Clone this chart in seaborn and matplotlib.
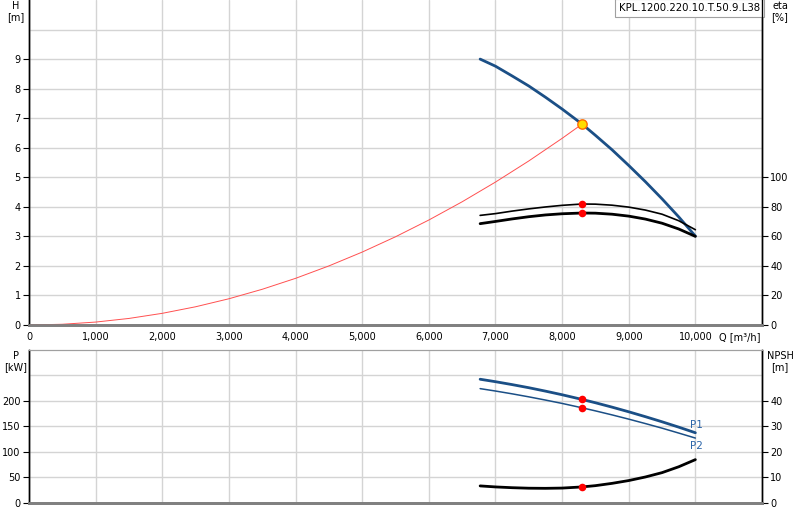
import numpy as np
import pandas as pd
import seaborn as sns
import matplotlib.pyplot as plt

# flow points [m3/h]
q_curve = [6770, 7000, 7250, 7500, 7750, 8000, 8300, 8500, 8750, 9000, 9250, 9500, 9750, 10000]

# pump curve H [m]
h_pump = [9.0, 8.76, 8.43, 8.09, 7.71, 7.31, 6.8, 6.42, 5.93, 5.40, 4.85, 4.27, 3.66, 3.01]

# system curve
q_sys = [0, 500, 1000, 1500, 2000, 2500, 3000, 3500, 4000, 4500, 5000, 5500, 6000,
         6500, 7000, 7500, 8000, 8300]
h_sys = [0, 0.025, 0.099, 0.222, 0.395, 0.617, 0.888, 1.209, 1.579, 1.999, 2.468,
         2.986, 3.553, 4.170, 4.837, 5.552, 6.317, 6.8]

# efficiencies [%]
eta1 = [74.2, 75.4, 77.1, 78.6, 79.9, 81.0, 81.9, 81.8, 81.1, 79.8, 77.8, 75.0, 70.6, 64.5]
eta2 = [68.6, 70.1, 71.8, 73.3, 74.5, 75.3, 75.8, 75.7, 75.0, 73.7, 71.7, 68.9, 65.0, 60.0]

# power [kW]
p1 = [242.6, 237.8, 232.1, 226.0, 219.3, 212.2, 203.0, 196.5, 187.9, 178.8, 169.2, 159.2, 148.7, 137.7]
p2 = [224.2, 219.5, 214.0, 208.1, 201.8, 195.2, 186.6, 180.6, 172.7, 164.4, 155.7, 146.7, 137.1, 127.3]

# NPSH [m]
npsh = [6.7, 6.3, 6.0, 5.8, 5.75, 5.85, 6.3, 6.8, 7.7, 8.8, 10.2, 11.9, 14.2, 17.0]

# duty point
q_op = 8300
h_op = 6.8
eta_op = [81.9, 75.8]
p_op = [203.0, 186.6]
npsh_op = [6.3]

title = "KPL.1200.220.10.T.50.9.L38"

sns.set_style("white")
plt.rcParams['font.family'] = ['DejaVu Sans']
plt.rcParams['font.size'] = 7

blue = "#1b4f86"
grid_c = "#d4d4d4"

fig = plt.figure(figsize=(8, 5.2), dpi=100)
ax = fig.add_axes([0.03625, 0.375, 0.91625, 0.625])
ax2 = ax.twinx()
bx = fig.add_axes([0.03625, 0.0327, 0.91625, 0.2943])
bx2 = bx.twinx()

# ---- top: H and eta
sns.lineplot(x=q_sys, y=h_sys, ax=ax, color="#ff5050", lw=0.7, zorder=3)
sns.lineplot(x=q_curve, y=h_pump, ax=ax, color=blue, lw=2, zorder=4)
sns.scatterplot(x=[q_op], y=[h_op], ax=ax, color="#ffdd00", edgecolor="#ff6a00",
                s=45, linewidth=1, zorder=6)
sns.lineplot(x=q_curve, y=eta1, ax=ax2, color="black", lw=1.2)
sns.lineplot(x=q_curve, y=eta2, ax=ax2, color="black", lw=2)
sns.scatterplot(x=[q_op, q_op], y=eta_op, ax=ax2, color="red", s=30, linewidth=0, zorder=5)

ax.set_xlim(0, 11000)
ax.set_ylim(0, 11)
ax2.set_ylim(0, 220)
ax.set_xticks(range(0, 11001, 1000))
ax.set_xticklabels([f"{v:,}" for v in range(0, 10001, 1000)] + [""])
ax.set_yticks(range(0, 10))
ax.set_yticks([10], minor=True)
ax.tick_params(axis="y", which="minor", length=0)
ax2.set_yticks(range(0, 101, 20))
ax.grid(True, which="both", color=grid_c, lw=1)
ax.set_axisbelow(True)
ax.text(10350, -0.25, "Q [m³/h]", ha="left", va="top", fontsize=7, color="black")
ax.text(-0.018, 0.996, "H\n[m]", transform=ax.transAxes, ha="center", va="top",
        fontsize=7, linespacing=1.15, color="black")
ax2.text(1.0245, 0.996, "eta\n[%]", transform=ax.transAxes, ha="center", va="top",
         fontsize=7, linespacing=1.15, color="black")
ax.text(0.997, 0.990, title, transform=ax.transAxes, ha="right", va="top", fontsize=7.3,
        color="black",
        bbox=dict(boxstyle="square,pad=0.4", fc="white", ec="#a0a0a0", lw=0.8), zorder=10)

# ---- bottom: P and NPSH
sns.lineplot(x=q_curve, y=p1, ax=bx, color=blue, lw=2)
sns.lineplot(x=q_curve, y=p2, ax=bx, color=blue, lw=1.1)
sns.scatterplot(x=[q_op, q_op], y=p_op, ax=bx, color="red", s=30, linewidth=0, zorder=5)
sns.lineplot(x=q_curve, y=npsh, ax=bx2, color="black", lw=2)
sns.scatterplot(x=[q_op], y=npsh_op, ax=bx2, color="red", s=30, linewidth=0, zorder=5)
bx.text(9920, 153, "P1", color="#2a64a8", fontsize=7.5, va="center")
bx.text(9920, 112, "P2", color="#2a64a8", fontsize=7.5, va="center")

bx.set_xlim(0, 11000)
bx.set_ylim(0, 300)
bx2.set_ylim(0, 60)
bx.set_xticks(range(0, 11001, 1000))
bx.set_xticklabels([])
bx.tick_params(axis="x", length=0)
bx.set_yticks(range(0, 201, 50))
bx.set_yticks([250], minor=True)
bx.tick_params(axis="y", which="minor", length=0)
bx2.set_yticks(range(0, 41, 10))
bx.grid(True, which="both", color=grid_c, lw=1)
bx.set_axisbelow(True)
bx.text(-0.018, 0.995, "P\n[kW]", transform=bx.transAxes, ha="center", va="top",
        fontsize=7, linespacing=1.15, color="black")
bx2.text(1.0245, 0.995, "NPSH\n[m]", transform=bx.transAxes, ha="center", va="top",
         fontsize=7, linespacing=1.15, color="black")

for a in (ax, ax2, bx, bx2):
    a.set_xlabel("")
    a.set_ylabel("")
    a.spines["left"].set_color("black")
    a.spines["right"].set_color("black")
    a.spines["bottom"].set_color("#808080")
    a.spines["bottom"].set_linewidth(2)
    a.spines["top"].set_color("#a0a0a0")
    a.spines["left"].set_linewidth(1)
    a.spines["right"].set_linewidth(1)
    a.tick_params(axis="y", which="major", length=4, width=0.8, color="black", pad=2,
                  labelsize=7, labelcolor="black")
ax.tick_params(axis="x", length=3, color="#808080", pad=2, labelsize=7, labelcolor="black")
ax2.spines["top"].set_visible(False)
ax.spines["top"].set_visible(False)

fig.savefig("out.png", dpi=100)
